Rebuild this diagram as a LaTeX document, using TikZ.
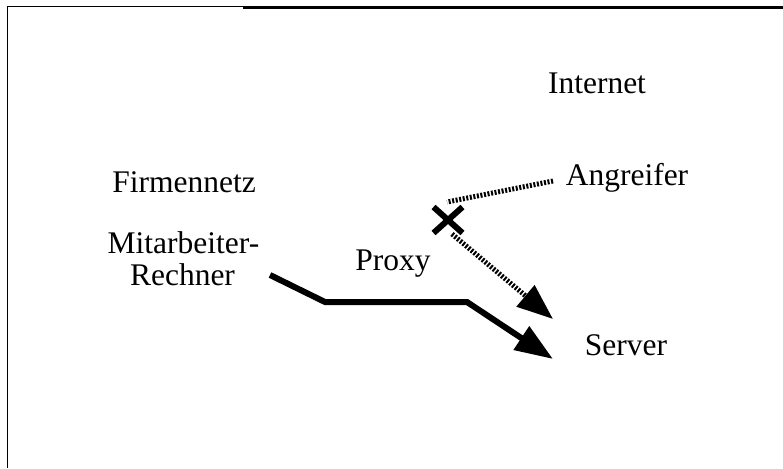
\documentclass[tikz,border=0pt]{standalone}
\usepackage{fontspec}
\setmainfont{Liberation Serif}
\usetikzlibrary{arrows.meta}
\begin{document}
\begin{tikzpicture}[x=1pt,y=-1pt,
  lbl/.style={inner sep=0pt,anchor=base,font=\fontsize{31.5}{32}\selectfont},
  solidflow/.style={line width=6pt,line join=miter,-{Triangle[length=38pt,width=27pt]}},
  attack/.style={line width=5pt,dash pattern=on 2pt off 1.6pt},
  attackarrow/.style={attack,-{Triangle[length=36pt,width=27pt]}},
  crossmark/.style={line width=6pt}]
\useasboundingbox (0,0) rectangle (783,468);
% frame
\draw[line width=1.5pt] (7.5,6) -- (7.5,468);
\draw[line width=1.3pt] (6.8,6.3) -- (243,6.3);
\draw[line width=3pt] (243,7.2) -- (783,7.2);
% labels
\node[lbl] (internet) at (597,94) {Internet};
\node[lbl] (angreifer) at (627,185) {Angreifer};
\node[lbl] (firmennetz) at (184,192) {Firmennetz};
\node[lbl] (mit1) at (183.5,253) {Mitarbeiter-};
\node[lbl] (mit2) at (182.5,285) {Rechner};
\node[lbl] (proxy) at (393,270) {Proxy};
\node[lbl] (server) at (626,355) {Server};
% connector points
\coordinate (ms) at (270,275);
\coordinate (p1) at (325,302);
\coordinate (p2) at (467,302);
\coordinate (st) at (553,359);
\coordinate (as) at (553,181);
\coordinate (xa) at (447,202);
\coordinate (xb) at (452,234);
\coordinate (at) at (553,319);
\coordinate (xm) at (448,220);
% solid flow
\draw[solidflow] (ms) -- (p1) -- (p2) -- (st);
% attack
\draw[attack] (as) -- (xa);
\draw[attackarrow] (xb) -- (at);
% blocked mark
\draw[crossmark] ([shift={(-14.5,-13)}]xm) -- ([shift={(14.5,13)}]xm);
\draw[crossmark] ([shift={(-14.5,13)}]xm) -- ([shift={(14.5,-13)}]xm);
\end{tikzpicture}
\end{document}
